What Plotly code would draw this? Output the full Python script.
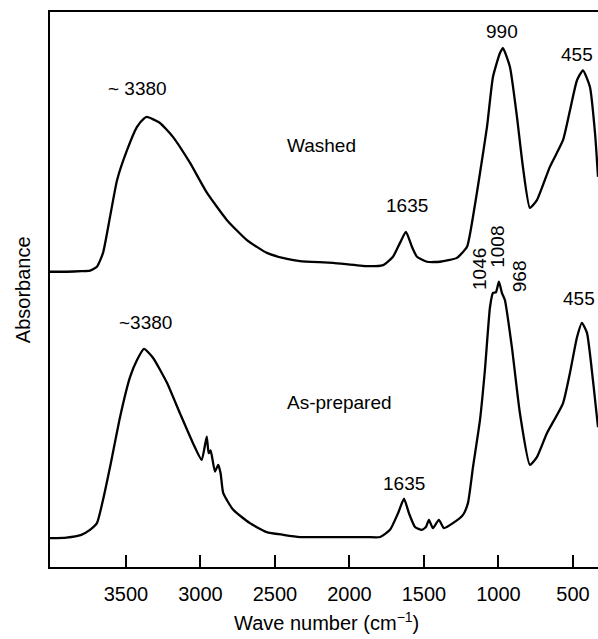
import plotly.graph_objects as go

# Wave numbers (cm^-1) and absorbance (a.u., offset-stacked)
washed_wn = [4010, 3900, 3800, 3742, 3695, 3654, 3607, 3560, 3493, 3426, 3380, 3359,
             3272, 3185, 3070, 2956, 2822, 2688, 2554, 2419, 2332, 2111, 1883, 1775,
             1708, 1661, 1621, 1581, 1547, 1480, 1393, 1279, 1211, 1171, 1124, 1077,
             1037, 990, 970, 923, 876, 836, 789, 742, 655, 567, 520, 473, 433, 386, 352, 332]
washed_abs = [53.2, 53.2, 53.3, 53.4, 54.1, 56.6, 63.1, 69.7, 75.1, 79.3, 80.8, 81.1,
              80.0, 77.5, 72.8, 67.4, 62.5, 58.9, 56.6, 55.5, 55.1, 54.8, 54.2, 54.4,
              55.9, 58.4, 60.4, 57.7, 55.9, 55.0, 55.0, 55.7, 57.7, 63.1, 71.0, 79.3,
              88.3, 92.6, 93.5, 90.1, 81.1, 72.1, 64.7, 66.1, 72.1, 76.9, 82.3, 87.7,
              89.5, 86.5, 78.2, 70.3]

prep_wn = [4010, 3900, 3800, 3742, 3695, 3654, 3607, 3540, 3473, 3426, 3379, 3319,
           3225, 3138, 3050, 2992, 2958, 2945, 2932, 2903, 2881, 2865, 2847, 2780,
           2668, 2556, 2444, 2332, 2111, 1883, 1795, 1728, 1674, 1634, 1601, 1560,
           1514, 1487, 1467, 1440, 1400, 1366, 1306, 1238, 1205, 1171, 1124, 1091,
           1057, 1037, 1017, 997, 977, 957, 910, 856, 789, 742, 675, 567, 520, 473,
           440, 406, 366, 332]
prep_abs = [5.2, 5.3, 5.8, 6.7, 7.9, 12.1, 18.0, 27.0, 34.2, 37.3, 39.3, 37.7,
            33.2, 27.7, 22.3, 19.3, 23.5, 20.5, 21.0, 17.2, 18.4, 16.9, 13.3, 10.3,
            7.9, 6.3, 5.8, 5.4, 5.4, 5.4, 5.4, 6.7, 9.7, 12.3, 9.7, 7.2,
            6.7, 7.2, 8.5, 7.0, 8.5, 7.0, 7.9, 9.4, 11.5, 18.0, 26.5, 35.5,
            46.8, 49.4, 49.5, 51.4, 49.4, 48.1, 39.6, 27.7, 18.4, 19.8, 24.1, 29.5,
            35.0, 41.4, 44.0, 42.2, 33.7, 25.2]

tick_vals = [3500, 3000, 2500, 2000, 1500, 1000, 500]

# Peak labels: (text, wave number, absorbance, rotation)
label_text = ["~ 3380", "Washed", "990", "455", "1635",
              "1046", "1008", "968", "455", "~3380", "As-prepared", "1635"]
label_wn = [3426, 2185, 977, 473, 1614, 1124, 1003, 862, 460, 3366, 2064, 1634]
label_abs = [86.3, 76.0, 96.4, 92.3, 65.2, 53.7, 57.7, 52.4, 48.3, 44.1, 29.7, 15.0]
label_rot = [0, 0, 0, 0, 0, -90, -90, -90, 0, 0, 0, 0]

FONT = "Liberation Sans, Arial, Helvetica, sans-serif"

fig = go.Figure()
for wn, ab in [(washed_wn, washed_abs), (prep_wn, prep_abs)]:
    fig.add_trace(go.Scatter(x=wn, y=ab, mode="lines",
                             line=dict(color="black", width=2.3, shape="spline", smoothing=0.5),
                             showlegend=False, hoverinfo="skip"))

for t, xw, ya, r in zip(label_text, label_wn, label_abs, label_rot):
    fig.add_annotation(x=xw, y=ya, xref="x", yref="y", text=t, showarrow=False,
                       textangle=r, font=dict(size=19, color="black", family=FONT),
                       xanchor="center", yanchor="middle")

fig.add_annotation(x=-0.049, y=0.499, xref="paper", yref="paper", text="Absorbance",
                   textangle=-90, showarrow=False, xanchor="center", yanchor="middle",
                   font=dict(size=20, color="black", family=FONT))
fig.add_annotation(x=0.505, y=-0.099, xref="paper", yref="paper",
                   text="Wave number (cm<sup>−1</sup>)", showarrow=False,
                   xanchor="center", yanchor="middle",
                   font=dict(size=20, color="black", family=FONT))

fig.update_layout(
    width=598, height=639,
    margin=dict(l=50, r=0, t=12, b=72),
    plot_bgcolor="white", paper_bgcolor="white",
    font=dict(family=FONT, color="black"),
    xaxis=dict(range=[4010, 332], tickvals=tick_vals, ticks="inside", ticklen=12,
               tickwidth=1.5, tickcolor="black", showline=True, linecolor="black",
               linewidth=2, mirror=True, showgrid=False, zeroline=False,
               tickfont=dict(size=20, color="black", family=FONT),
               ticklabelstandoff=8),
    yaxis=dict(range=[0, 100], showticklabels=False, ticks="", showline=True,
               linecolor="black", linewidth=2, showgrid=False, zeroline=False),
)

fig.write_html("out.html", config={"displayModeBar": False},
               post_script="document.body.style.margin='0px';document.body.style.overflow='hidden';")
